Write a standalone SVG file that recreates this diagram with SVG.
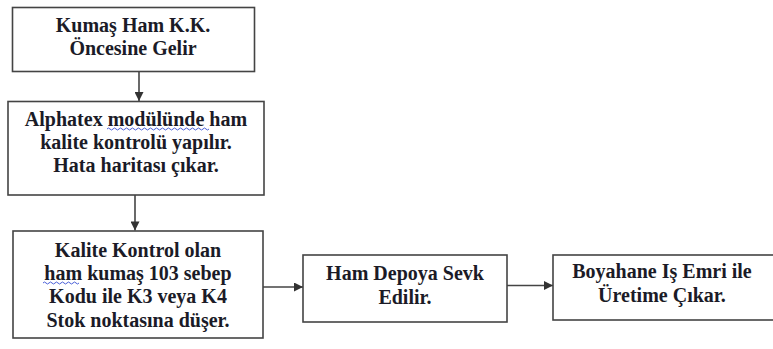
<svg xmlns="http://www.w3.org/2000/svg" width="773" height="349" viewBox="0 0 773 349">
<defs>
<style>
.box{fill:#ffffff;stroke:#444444;stroke-width:1.6}
.t{font-family:"Liberation Serif","Times New Roman",serif;font-weight:bold;font-size:20px;fill:#1b1b27;text-anchor:middle}
.c{stroke:#444444;stroke-width:1.6;fill:none}
.sq{stroke:#4a5fd8;stroke-width:1;fill:none}
</style>
<marker id="ah" viewBox="0 0 10 10" refX="10" refY="5" markerWidth="10" markerHeight="9" markerUnits="userSpaceOnUse" orient="auto">
<path d="M0,0 L10,5 L0,10 z" fill="#333333"/>
</marker>
</defs>
<rect width="773" height="349" fill="#ffffff"/>
<g id="connectors">
<line class="c" x1="139" y1="72" x2="139" y2="101" marker-end="url(#ah)"/>
<line class="c" x1="135" y1="195" x2="135" y2="230.5" marker-end="url(#ah)"/>
<line class="c" x1="263" y1="287" x2="303" y2="287" marker-end="url(#ah)"/>
<line class="c" x1="507" y1="285.5" x2="553" y2="285.5" marker-end="url(#ah)"/>
</g>
<g id="n1">
<rect class="box" x="12.5" y="7.5" width="242" height="64"/>
<text class="t" x="133" y="32">Kumaş Ham K.K.</text>
<text class="t" x="133" y="55">Öncesine Gelir</text>
</g>
<g id="n2">
<rect class="box" x="8" y="101.5" width="256" height="93.5"/>
<text class="t" x="136" y="126">Alphatex modülünde ham</text>
<text class="t" x="136" y="149">kalite kontrolü yapılır.</text>
<text class="t" x="136" y="172">Hata haritası çıkar.</text>
<path class="sq" d="M107,129 q1.5,-2 3,0 t3,0 t3,0 t3,0 t3,0 t3,0 t3,0 t3,0 t3,0 t3,0 t3,0 t3,0 t3,0 t3,0 t3,0 t3,0 t3,0 t3,0 t3,0 t3,0 t3,0 t3,0 t3,0 t3,0 t3,0 t3,0 t3,0 t3,0 t3,0 t3,0 t3,0 t3,0 t3,0 t3,0"/>
</g>
<g id="n3">
<rect class="box" x="13" y="231" width="250" height="107"/>
<text class="t" x="138" y="257">Kalite Kontrol olan</text>
<text class="t" x="138" y="280">ham kumaş 103 sebep</text>
<text class="t" x="138" y="303">Kodu ile K3 veya K4</text>
<text class="t" x="138" y="327">Stok noktasına düşer.</text>
<path class="sq" d="M43,283 q1.5,-2 3,0 t3,0 t3,0 t3,0 t3,0 t3,0 t3,0 t3,0 t3,0 t3,0 t3,0 t3,0"/>
</g>
<g id="n4">
<rect class="box" x="303" y="255" width="204" height="67"/>
<text class="t" x="405" y="280">Ham Depoya Sevk</text>
<text class="t" x="405" y="304">Edilir.</text>
</g>
<g id="n5">
<rect class="box" x="553" y="255" width="223" height="65"/>
<text class="t" x="662" y="277.5">Boyahane Iş Emri ile</text>
<text class="t" x="662" y="301.5">Üretime Çıkar.</text>
</g>
</svg>
